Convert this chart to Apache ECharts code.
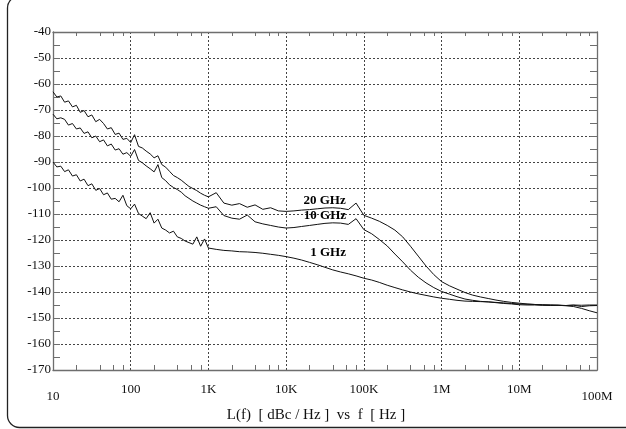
<!DOCTYPE html>
<html>
<head>
<meta charset="utf-8">
<script src="https://cdn.jsdelivr.net/npm/echarts@6/dist/echarts.min.js"></script>
<style>
html,body{margin:0;padding:0;background:#fff;}
#chart{width:626px;height:429px;}
</style>
</head>
<body>
<div id="chart"></div>
<script>
// Offset frequencies (Hz)
const freq = [
  10, 11.2, 12.6, 14.1, 15.8, 17.8, 20, 22.4, 25.1, 28.2, 31.6, 35.5, 39.8, 44.7, 50.1, 56.2, 63.1, 70.8, 79.4, 89.1,
  100, 112, 126, 141, 158, 178, 200, 224, 251, 282, 316, 355, 398, 447, 501, 562, 631, 708, 794, 891,
  1e3, 1.26e3, 1.58e3, 2e3, 2.51e3, 3.16e3, 3.98e3, 5.01e3, 6.31e3, 7.94e3,
  1e4, 1.26e4, 1.58e4, 2e4, 2.51e4, 3.16e4, 3.98e4, 5.01e4, 6.31e4, 7.94e4,
  1e5, 1.26e5, 1.58e5, 2e5, 2.51e5, 3.16e5, 3.98e5, 5.01e5, 6.31e5, 7.94e5,
  1e6, 1.26e6, 1.58e6, 2e6, 2.51e6, 3.16e6, 3.98e6, 5.01e6, 6.31e6, 7.94e6,
  1e7, 1.26e7, 1.58e7, 2e7, 2.51e7, 3.16e7, 3.98e7, 5.01e7, 6.31e7, 7.94e7,
  1e8
];
// Phase noise L(f) in dBc/Hz
const ghz20 = [
  -63.0, -65.0, -64.6, -67.0, -66.5, -68.8, -68.2, -70.9, -70.2, -72.6,
  -71.9, -74.5, -73.6, -75.2, -77.3, -76.8, -79.4, -78.9, -81.3, -80.9,
  -82.5, -79.5, -84.0, -84.6, -85.8, -86.9, -88.4, -87.6, -91.0, -92.0,
  -93.6, -95.2, -96.0, -97.0, -98.2, -99.4, -100.2, -101.0, -102.0, -102.8,
  -103.4, -101.8, -105.8, -106.6, -106.0, -107.4, -106.5, -108.2, -107.6, -108.8,
  -109.0, -108.8, -108.5, -108.3, -108.0, -107.7, -107.6, -107.8, -108.3, -105.8,
  -110.5, -111.6, -112.8, -114.4, -116.2, -118.8, -122.4, -126.2, -130.0, -133.3,
  -136.0, -137.6, -138.9, -140.2, -141.2, -141.9, -142.5, -143.1, -143.6, -144.0,
  -144.3, -144.6, -144.8, -144.9, -145.0, -145.1, -145.3, -145.6, -146.3, -147.2,
  -148.0
];
const ghz10 = [
  -71.6, -73.4, -73.0, -73.6, -75.8, -75.2, -77.3, -76.9, -79.0, -78.4,
  -80.7, -80.0, -82.2, -81.5, -83.8, -83.1, -85.4, -84.9, -87.0, -86.4,
  -87.8, -85.2, -89.4, -90.3, -91.5, -92.6, -93.8, -91.0, -96.0, -97.2,
  -98.8, -99.8, -100.6, -101.6, -103.0, -104.0, -105.0, -105.8, -106.6, -107.2,
  -107.8, -107.2, -110.6, -111.6, -112.0, -110.4, -113.0, -113.8, -114.4, -115.0,
  -115.4, -115.2, -114.8, -114.4, -114.0, -113.6, -113.4, -113.5, -114.0, -111.8,
  -116.0, -117.6, -119.8, -122.3, -125.4, -128.4, -131.6, -134.3, -136.5, -138.3,
  -139.8, -140.8, -141.8, -142.7, -143.2, -143.6, -143.8, -144.0, -144.2, -144.4,
  -144.6, -144.7, -144.8, -145.0, -145.0, -145.1, -145.2, -145.1, -145.6, -145.3,
  -145.2
];
const ghz1 = [
  -90.0, -91.9, -91.6, -93.7, -93.0, -95.4, -94.9, -97.3, -96.6, -99.1,
  -98.4, -100.9, -100.2, -102.6, -101.9, -104.3, -104.0, -105.3, -102.8, -106.8,
  -108.0, -106.2, -109.8, -110.8, -111.8, -109.5, -113.5, -112.0, -115.4, -116.2,
  -117.3, -116.6, -118.8, -119.4, -120.4, -121.0, -121.6, -118.8, -122.4, -119.6,
  -123.1, -123.6, -124.0, -124.2, -124.5, -124.6, -124.8, -125.1, -125.5, -125.9,
  -126.4, -127.0, -127.7, -128.6, -129.5, -130.5, -131.5, -132.3, -133.0, -133.8,
  -134.7, -135.4, -136.3, -137.4, -138.3, -139.2, -140.0, -140.7, -141.3, -141.9,
  -142.4, -142.8, -143.2, -143.5, -143.6, -143.7, -143.8, -144.1, -144.4, -144.6,
  -144.9, -145.0, -145.0, -145.1, -145.2, -145.1, -145.2, -145.0, -145.1, -145.0,
  -145.0
];
// Curve labels: [name, frequency, level]
const curveLabels = [
  ['20 GHz', 31200, -104.7],
  ['10 GHz', 31600, -110.8],
  ['1 GHz', 34600, -125.0]
];
// Tick labels for decades 10^1 .. 10^8
const xTickLabels = ['10', '100', '1K', '10K', '100K', '1M', '10M', '100M'];
const xMinorTicks = [
  20, 40, 60, 80, 200, 400, 600, 800, 2e3, 4e3, 6e3, 8e3, 2e4, 4e4, 6e4, 8e4,
  2e5, 4e5, 6e5, 8e5, 2e6, 4e6, 6e6, 8e6, 2e7, 4e7, 6e7, 8e7
];

const FONT = '"Liberation Serif", "DejaVu Serif", serif';
const pairs = arr => freq.map((f, i) => [f, arr[i]]);

function mp(idx) {
  const l = curveLabels[idx];
  return {
    silent: true,
    symbol: 'circle', symbolSize: 1,
    itemStyle: { color: 'rgba(0,0,0,0)' },
    label: { show: true, position: 'inside', formatter: l[0], fontFamily: FONT,
             fontWeight: 'bold', fontSize: 13, color: '#000' },
    data: [{ coord: [l[1], l[2]] }]
  };
}

const chart = echarts.init(document.getElementById('chart'), null, { renderer: 'canvas' });
const axisColor = '#6e6e6e';
const lineStyle = { color: '#111', width: 1 };

function tickAxis(pos) {
  return {
    type: 'log', logBase: 10, min: 10, max: 1e8, position: pos,
    axisLine: { show: pos === 'top', lineStyle: { color: axisColor, width: 1.3 } },
    axisTick: { show: true, inside: true, length: pos === 'top' ? 4 : 5, customValues: xMinorTicks,
                lineStyle: { color: axisColor } },
    splitLine: { show: false },
    axisLabel: { show: false }
  };
}

chart.setOption({
  animation: false,
  backgroundColor: '#fff',
  grid: { left: 53, right: 29, top: 32, bottom: 59, containLabel: false },
  graphic: [{
    type: 'rect', silent: true, z: 100,
    shape: { x: 7.5, y: -4, width: 660, height: 431.5, r: 12 },
    style: { fill: 'none', stroke: '#222', lineWidth: 1.3 }
  }],
  xAxis: [{
    type: 'log', logBase: 10, min: 10, max: 1e8, position: 'bottom',
    axisLine: { show: true, lineStyle: { color: axisColor, width: 1.3 } },
    axisTick: { show: false },
    splitLine: { show: true, lineStyle: { color: '#444', type: [2, 2], width: 1 } },
    axisLabel: {
      show: true, margin: 13, fontFamily: FONT, fontSize: 13, color: '#111',
      showMinLabel: true, showMaxLabel: true,
      formatter: function (v) {
        const e = Math.round(Math.log10(v));
        const t = xTickLabels[e - 1] || '';
        return (e === 1 || e === 8) ? '{lo|' + t + '}' : t;
      },
      rich: { lo: { padding: [7, 0, 0, 0], fontFamily: FONT, fontSize: 13, color: '#111' } }
    },
    name: 'L(f)  [ dBc / Hz ]  vs  f  [ Hz ]',
    nameLocation: 'middle', nameGap: 29,
    nameTextStyle: { fontFamily: FONT, fontSize: 15, color: '#111', padding: [0, 18, 0, 0] }
  }, tickAxis('top'), tickAxis('bottom')],
  yAxis: [{
    type: 'value', min: -170, max: -40, interval: 10, position: 'left',
    axisLine: { show: true, lineStyle: { color: axisColor, width: 1.3 } },
    axisTick: { show: true, inside: true, length: 7, lineStyle: { color: axisColor } },
    minorTick: { show: true, splitNumber: 2, length: 7, lineStyle: { color: axisColor } },
    splitLine: { show: true, lineStyle: { color: '#444', type: [2, 2], width: 1 } },
    axisLabel: { show: true, margin: 2, fontFamily: FONT, fontSize: 13, color: '#111',
                 showMinLabel: true, showMaxLabel: true }
  }, {
    type: 'value', min: -170, max: -40, interval: 10, position: 'right',
    axisLine: { show: true, lineStyle: { color: axisColor, width: 1.3 } },
    axisTick: { show: true, inside: true, length: 7, lineStyle: { color: axisColor } },
    minorTick: { show: true, splitNumber: 2, length: 7, lineStyle: { color: axisColor } },
    splitLine: { show: false },
    axisLabel: { show: false }
  }],
  series: [
    { name: '20 GHz', type: 'line', xAxisIndex: 0, yAxisIndex: 0, data: pairs(ghz20),
      showSymbol: false, symbol: 'none', lineStyle: lineStyle, markPoint: mp(0) },
    { name: '10 GHz', type: 'line', xAxisIndex: 0, yAxisIndex: 0, data: pairs(ghz10),
      showSymbol: false, symbol: 'none', lineStyle: lineStyle, markPoint: mp(1) },
    { name: '1 GHz', type: 'line', xAxisIndex: 0, yAxisIndex: 0, data: pairs(ghz1),
      showSymbol: false, symbol: 'none', lineStyle: lineStyle, markPoint: mp(2) }
  ]
});
</script>
</body>
</html>
